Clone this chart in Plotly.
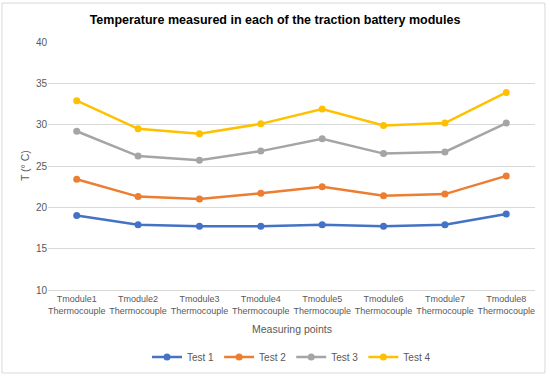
import plotly.graph_objects as go

categories = [f"Tmodule{i}<br>Thermocouple" for i in range(1, 9)]
test1 = [19.0, 17.9, 17.7, 17.7, 17.9, 17.7, 17.9, 19.2]
test2 = [23.4, 21.3, 21.0, 21.7, 22.5, 21.4, 21.6, 23.8]
test3 = [29.2, 26.2, 25.7, 26.8, 28.3, 26.5, 26.7, 30.2]
test4 = [32.9, 29.5, 28.9, 30.1, 31.9, 29.9, 30.2, 33.9]
series_names = ["Test 1", "Test 2", "Test 3", "Test 4"]
colors = ["#4472C4", "#ED7D31", "#A5A5A5", "#FFC000"]
y_ticks = [10, 15, 20, 25, 30, 35, 40]

FONT = "Liberation Sans, Arial, sans-serif"

fig = go.Figure()
for name, vals, c in zip(series_names, [test1, test2, test3, test4], colors):
    fig.add_trace(go.Scatter(
        x=categories, y=vals, name=name, mode="lines+markers",
        line=dict(color=c, width=2.5), marker=dict(color=c, size=7),
    ))

fig.update_layout(
    width=550, height=376,
    margin=dict(l=48, r=15, t=42, b=86, autoexpand=False),
    paper_bgcolor="white", plot_bgcolor="white",
    font=dict(family=FONT, size=10, color="#595959"),
    title=dict(text="<b>Temperature measured in each of the traction battery modules</b>",
               x=0.5, xanchor="center", y=0.947, yanchor="middle",
               font=dict(family=FONT, size=12.5, color="black")),
    showlegend=True,
    legend=dict(orientation="h", x=0.5, xanchor="center", y=-0.27, yanchor="middle",
                font=dict(size=10, color="#595959"), itemwidth=30),
    shapes=[dict(type="rect", xref="paper", yref="paper",
                 x0=-0.0945, x1=1.0205, y0=-0.3347, y1=1.157,
                 line=dict(color="#D9D9D9", width=1), fillcolor="rgba(0,0,0,0)", layer="below")],
    annotations=[
        dict(text="Measuring points", xref="paper", yref="paper", x=0.5, y=-0.157,
             xanchor="center", yanchor="middle", showarrow=False,
             font=dict(size=10.5, color="#595959")),
        dict(text="T (° C)", xref="paper", yref="paper", x=-0.047, y=0.5,
             xanchor="center", yanchor="middle", showarrow=False, textangle=-90,
             font=dict(size=10.5, color="#595959")),
    ],
)
fig.update_xaxes(
    showgrid=False, showline=True, linecolor="#D9D9D9", ticks="",
    tickangle=0, automargin=False,
    tickfont=dict(size=9, color="#595959"),
)
fig.update_yaxes(
    range=[10, 40], tickvals=y_ticks, showgrid=True, gridcolor="#D9D9D9", gridwidth=1,
    zeroline=False, showline=False, ticks="", automargin=False,
    tickfont=dict(size=10, color="#595959"),
)

fig.write_html("out.html", config={"displayModeBar": False},
               post_script="document.body.style.margin='0';")
